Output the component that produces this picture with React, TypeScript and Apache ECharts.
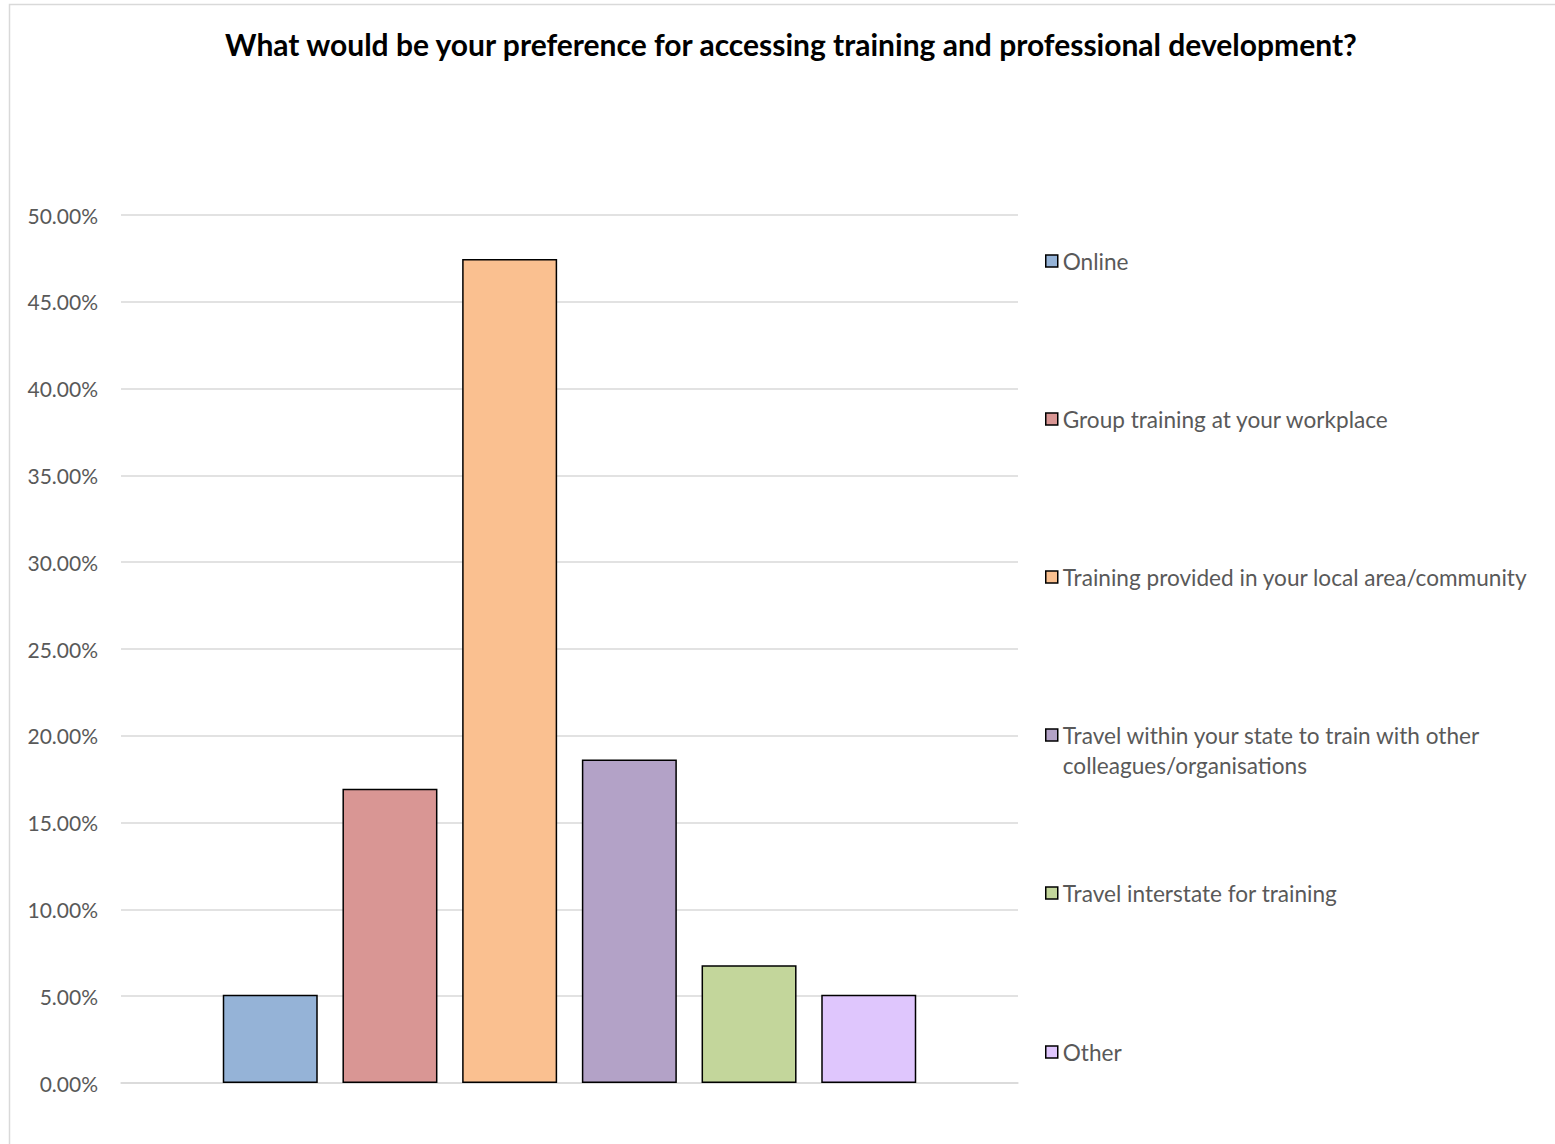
import React, { useEffect, useRef } from "react";
import * as echarts from "echarts";

const titleText = "What would be your preference for accessing training and professional development?";
const seriesNames = [
  "Online",
  "Group training at your workplace",
  "Training provided in your local area/community",
  "Travel within your state to train with other colleagues/organisations",
  "Travel interstate for training",
  "Other",
];
const legendLabels = [
  "Online",
  "Group training at your workplace",
  "Training provided in your local area/community",
  "\nTravel within your state to train with other\ncolleagues/organisations",
  "Travel interstate for training",
  "Other",
];
const values = [5.08, 16.95, 47.46, 18.64, 6.78, 5.08];
const colors = ["#95B3D7", "#D99694", "#FAC090", "#B3A2C7", "#C3D69B", "#DFC6FD"];
const legendCenters = [262, 420, 578, 736, 894, 1053];

const FONT = "Lato";

export default function App() {
  const ref = useRef<HTMLDivElement>(null);
  useEffect(() => {
    if (!ref.current) return;
    const chart = echarts.init(ref.current, undefined, { renderer: "svg" });
    const legends = seriesNames.map((name, i) => {
      const multi = legendLabels[i].includes("\n");
      return {
        orient: "vertical",
        left: 1045,
        top: multi ? legendCenters[i] - 46 : legendCenters[i] - 16,
        padding: 0,
        itemWidth: 12,
        itemHeight: 12,
        itemGap: 0,
        icon: "rect",
        selectedMode: false,
        data: [name],
        formatter: () => legendLabels[i],
        itemStyle: { borderColor: "#000", borderWidth: 1.5 },
        textStyle: {
          fontFamily: FONT,
          fontSize: 22.6,
          color: "#595959",
          lineHeight: 30,
        },
      };
    });
    chart.setOption({
      animation: false,
      backgroundColor: "#fff",
      title: {
        text: titleText,
        left: 791,
        top: 29,
        textAlign: "center",
        padding: 0,
        textStyle: { fontFamily: FONT, fontWeight: "bold", fontSize: 30, color: "#000" },
      },
      graphic: [
        {
          type: "rect",
          shape: { x: 9.5, y: 4.5, width: 1700, height: 1300 },
          style: { fill: "none", stroke: "#D9D9D9", lineWidth: 1.5 },
          silent: true,
          z: -10,
        },
      ],
      legend: legends,
      grid: { left: 121, right: 537, top: 215, bottom: 61, containLabel: false },
      xAxis: {
        type: "category",
        data: [""],
        axisLine: { show: true, lineStyle: { color: "#D9D9D9", width: 1.5 } },
        axisTick: { show: false },
        axisLabel: { show: false },
      },
      yAxis: {
        type: "value",
        min: 0,
        max: 50,
        interval: 5,
        axisLine: { show: false },
        axisTick: { show: false },
        splitLine: { lineStyle: { color: "#D9D9D9", width: 1.5 } },
        axisLabel: {
          formatter: (v: number) => v.toFixed(2) + "%",
          fontFamily: FONT,
          fontSize: 21,
          color: "#595959",
          margin: 23,
        },
      },
      series: seriesNames.map((name, i) => ({
        name,
        type: "bar",
        data: [values[i]],
        barWidth: 95,
        barGap: "26%",
        itemStyle: { color: colors[i], borderColor: "#000", borderWidth: 1.5 },
      })),
    });
    return () => chart.dispose();
  }, []);
  return (
    <div
      ref={ref}
      style={{ position: "fixed", left: 0, top: 0, width: 1555, height: 1144 }}
    />
  );
}
